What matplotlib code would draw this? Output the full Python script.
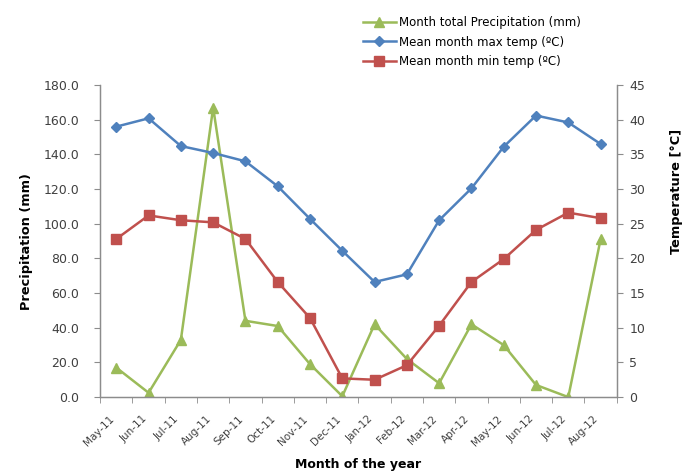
import numpy as np
import matplotlib
matplotlib.use("Agg")
import matplotlib.pyplot as plt

months = ["May-11", "Jun-11", "Jul-11", "Aug-11", "Sep-11", "Oct-11", "Nov-11", "Dec-11",
          "Jan-12", "Feb-12", "Mar-12", "Apr-12", "May-12", "Jun-12", "Jul-12", "Aug-12"]
precip = [17, 2.5, 33, 167, 44, 41, 19, 0.5, 42, 22, 8, 42, 30, 7, 0, 91]
tmax = [39.0, 40.2, 36.2, 35.2, 34.0, 30.4, 25.7, 21.1, 16.6, 17.7, 25.5, 30.1, 36.1, 40.6, 39.6, 36.5]
tmin = [22.8, 26.2, 25.5, 25.2, 22.8, 16.6, 11.4, 2.7, 2.5, 4.6, 10.3, 16.6, 19.9, 24.1, 26.6, 25.8]

green = "#9BBB59"
blue = "#4F81BD"
red = "#C0504D"
axis_grey = "#8C8C8C"
text_grey = "#404040"

plt.rcParams["font.family"] = "DejaVu Sans"

fig = plt.figure(figsize=(6.86, 4.75), dpi=100)
ax = fig.add_axes([0.146, 0.164, 0.753, 0.657])
ax2 = ax.twinx()

x = np.arange(len(months))

l1, = ax.plot(x, precip, color=green, lw=1.8, marker="^", ms=6.5,
              markeredgecolor=green, label="Month total Precipitation (mm)")
l2, = ax2.plot(x, tmax, color=blue, lw=1.8, marker="D", ms=5,
               markeredgecolor=blue, label="Mean month max temp (ºC)")
l3, = ax2.plot(x, tmin, color=red, lw=1.8, marker="s", ms=7,
               markeredgecolor=red, label="Mean month min temp (ºC)")

ax.set_xlim(-0.5, len(months) - 0.5)
ax.set_ylim(0, 180)
ax2.set_ylim(0, 45)

ax.set_yticks(np.arange(0, 181, 20))
ax.set_yticklabels(["%.1f" % v for v in np.arange(0, 181, 20)])
ax2.set_yticks(np.arange(0, 46, 5))

# category labels at centres, tick marks on the boundaries
ax.set_xticks(x)
ax.set_xticklabels(months, rotation=45, ha="right", va="top", fontsize=7.5, color=text_grey)
ax.set_xticks(np.arange(-0.5, len(months)), minor=True)
ax.tick_params(axis="x", which="major", length=0, pad=12)
ax.tick_params(axis="x", which="minor", length=4, color=axis_grey, direction="out")

ax.tick_params(axis="y", length=4, color=axis_grey, labelsize=9, labelcolor=text_grey, pad=11)
ax2.tick_params(axis="y", length=4, color=axis_grey, labelsize=9, labelcolor=text_grey, pad=5)

for a in (ax, ax2):
    a.spines["top"].set_visible(False)
    for s in ("left", "right", "bottom"):
        a.spines[s].set_color(axis_grey)
        a.spines[s].set_linewidth(0.9)

ax.set_ylabel("Precipitation (mm)", fontsize=9.3, fontweight="bold")
ax.yaxis.set_label_coords(-0.13, 0.5)
ax2.set_ylabel("Temperature [°C]", fontsize=9.3, fontweight="bold")
ax2.yaxis.set_label_coords(1.103, 0.66)
ax.set_xlabel("Month of the year", fontsize=9, fontweight="bold")
ax.xaxis.set_label_coords(0.5, -0.195)

fig.legend(handles=[l1, l2, l3], loc="upper left", bbox_to_anchor=(0.522, 0.976),
           frameon=False, fontsize=8.5, handlelength=2.8, labelspacing=0.55,
           handletextpad=0.3, borderaxespad=0)

fig.savefig("out.png", dpi=100)
